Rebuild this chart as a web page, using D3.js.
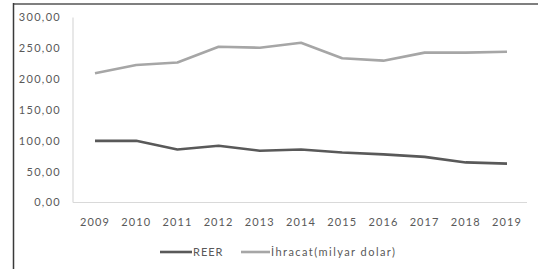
<!DOCTYPE html>
<html>
<head>
<meta charset="utf-8">
<script src="https://cdn.jsdelivr.net/npm/d3@7"></script>
<style>
  html, body { margin: 0; padding: 0; background: #fff; }
  svg { display: block; }
  text { font-family: Lato, "Open Sans", sans-serif; fill: #595959; }
</style>
</head>
<body>
<svg id="chart" width="538" height="269"></svg>
<script>
const years = ["2009","2010","2011","2012","2013","2014","2015","2016","2017","2018","2019"];
const reer = [100, 100, 86, 92, 84, 86, 81, 78, 74, 65, 63];
const ihracat = [209.5, 223, 227, 252.5, 251, 259, 234, 230, 243, 243, 244.5];
const yTicks = [0, 50, 100, 150, 200, 250, 300];
const seriesNames = ["REER", "İhracat(milyar dolar)"];
const seriesColors = ["#595959", "#a6a6a6"];

const svg = d3.select("#chart");

// frame
svg.append("line").attr("x1", 13).attr("x2", 538).attr("y1", 4).attr("y2", 4)
  .attr("stroke", "#7f7f7f").attr("stroke-width", 2);
svg.append("line").attr("x1", 13.5).attr("x2", 13.5).attr("y1", 3).attr("y2", 269)
  .attr("stroke", "#3a3a3a").attr("stroke-width", 1.5);

const x = d3.scalePoint().domain(years).range([95, 507]);
const y = d3.scaleLinear().domain([0, 300]).range([202.5, 17.5]);

// axes lines
svg.append("line").attr("x1", 73).attr("x2", 73).attr("y1", y(300)).attr("y2", y(0))
  .attr("stroke", "#d9d9d9").attr("stroke-width", 1.2);
svg.append("line").attr("x1", 73).attr("x2", 527).attr("y1", y(0)).attr("y2", y(0))
  .attr("stroke", "#d9d9d9").attr("stroke-width", 1.2);

const fmt = v => d3.format(".2f")(v).replace(".", ",");

svg.append("g").selectAll("text").data(yTicks).join("text")
  .attr("x", 61).attr("y", d => y(d)).attr("dy", "0.35em")
  .attr("text-anchor", "end").attr("font-size", 11).attr("letter-spacing", 1.3)
  .text(fmt);

svg.append("g").selectAll("text").data(years).join("text")
  .attr("x", d => x(d)).attr("y", 222.5).attr("dy", "0.35em")
  .attr("text-anchor", "middle").attr("font-size", 11).attr("letter-spacing", 1.1)
  .text(d => d);

const line = d3.line().x((d, i) => x(years[i])).y(d => y(d));
[reer, ihracat].forEach((s, k) => {
  svg.append("path").datum(s).attr("d", line)
    .attr("fill", "none").attr("stroke", seriesColors[k]).attr("stroke-width", 2.6)
    .attr("stroke-linejoin", "round");
});

// legend
const legendItems = [
  { name: seriesNames[0], color: seriesColors[0], x1: 160, x2: 192, tx: 193, ls: 1.0 },
  { name: seriesNames[1], color: seriesColors[1], x1: 241, x2: 270, tx: 271, ls: 1.45 }
];
const lg = svg.append("g");
legendItems.forEach(it => {
  lg.append("line").attr("x1", it.x1).attr("x2", it.x2).attr("y1", 252).attr("y2", 252)
    .attr("stroke", it.color).attr("stroke-width", 2.6);
  lg.append("text").attr("x", it.tx).attr("y", 252).attr("dy", "0.35em")
    .attr("font-size", 11).attr("letter-spacing", it.ls).text(it.name);
});
</script>
</body>
</html>
